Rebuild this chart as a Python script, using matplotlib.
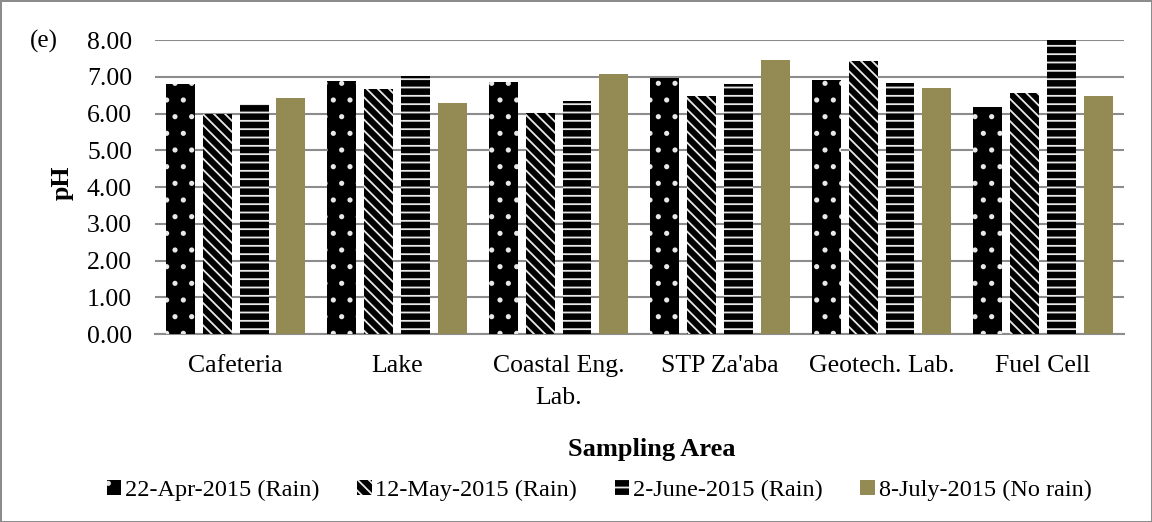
import matplotlib.pyplot as plt
import numpy as np

plt.rcParams['font.family'] = ['Liberation Serif', 'DejaVu Serif']
plt.rcParams['hatch.linewidth'] = 1.3

areas = ["Cafeteria", "Lake", "Coastal Eng.\nLab.", "STP Za'aba", "Geotech. Lab.", "Fuel Cell"]
series = ["22-Apr-2015 (Rain)", "12-May-2015 (Rain)", "2-June-2015 (Rain)", "8-July-2015 (No rain)"]
apr22 = [6.80, 6.88, 6.86, 6.98, 6.91, 6.17]
may12 = [5.98, 6.67, 6.01, 6.49, 7.43, 6.57]
jun2 = [6.27, 7.02, 6.34, 6.80, 6.84, 8.00]
jul8 = [6.43, 6.29, 7.08, 7.45, 6.69, 6.48]

values = [apr22, may12, jun2, jul8]
hatches = ['.', '\\\\\\', '--', None]

fig = plt.figure(figsize=(11.52, 5.22), dpi=100)
fig.patch.set_edgecolor('#8c8c8c')
fig.patch.set_linewidth(2)
ax = fig.add_axes([0.1345, 0.36, 0.841, 0.563])

x = np.arange(len(areas))
w = 0.179
step = 0.228
handles = []
for i, (vals, h) in enumerate(zip(values, hatches)):
    pos = x + (i - 1.5) * step
    if h is None:
        b = ax.bar(pos, vals, w, color='#948a54', linewidth=0, zorder=3)
    else:
        b = ax.bar(pos, vals, w, facecolor='black', edgecolor='#e8e8e8',
                   hatch=h, linewidth=0, zorder=3)
    handles.append(b)

ax.set_ylim(0, 8)
ax.set_xlim(-0.5, len(areas) - 0.5)
ax.set_yticks(np.arange(0, 9, 1))
ax.set_yticklabels(['%.2f' % v for v in np.arange(0, 9, 1)])
ax.set_xticks(x)
ax.set_xticklabels(areas, linespacing=1.6)
ax.tick_params(axis='both', length=0, labelsize=18.5)
ax.tick_params(axis='y', pad=16.5)
ax.tick_params(axis='x', pad=15)
ax.grid(axis='y', color='#8c8c8c', linewidth=1.5, zorder=0)
for s in ['left', 'right', 'top']:
    ax.spines[s].set_visible(False)
ax.spines['bottom'].set_color('#8c8c8c')
ax.spines['bottom'].set_linewidth(1.5)

fig.text(0.054, 0.65, 'pH', fontsize=18.5, fontweight='bold', rotation=90,
         ha='center', va='center')
fig.text(0.566, 0.138, 'Sampling Area', fontsize=19, fontweight='bold',
         ha='center', va='center')
fig.text(0.026, 0.92, '(e)', fontsize=18, ha='left', va='center')

fig.legend(handles, series, loc='center', bbox_to_anchor=(0.52, 0.061),
           ncol=4, frameon=False, fontsize=17.5, handlelength=0.6, handleheight=0.6,
           handletextpad=0.15, columnspacing=1.55)

fig.savefig('out.png', dpi=100)
